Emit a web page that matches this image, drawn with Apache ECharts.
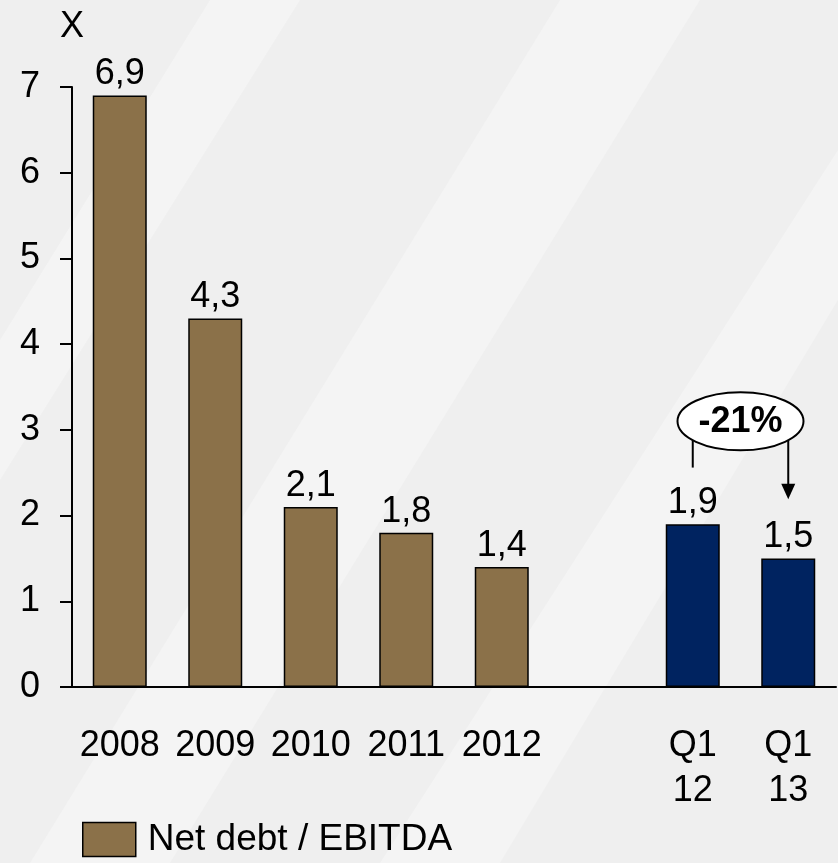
<!DOCTYPE html>
<html>
<head>
<meta charset="utf-8">
<script src="https://cdn.jsdelivr.net/npm/echarts@6/dist/echarts.min.js"></script>
<style>
  html, body { margin: 0; padding: 0; background: #efefef; }
  #chart { width: 838px; height: 863px; }
</style>
</head>
<body>
<div id="chart"></div>
<script>
// categories, the empty slot keeps the gap between years and quarters
var categories = ['2008', '2009', '2010', '2011', '2012', '', 'Q1\n12', 'Q1\n13']
var values = [6.9, 4.3, 2.1, 1.8, 1.4, null, 1.9, 1.5]
var barColors = ['#8b7149', '#8b7149', '#8b7149', '#8b7149', '#8b7149', '#8b7149', '#002360', '#002360']
var yTicks = [0, 1, 2, 3, 4, 5, 6, 7]
var changeText = '-21%'
var seriesName = 'Net debt / EBITDA'

var font = 'Liberation Sans, Arial, sans-serif'
var fs = 36
var chart = echarts.init(document.getElementById('chart'))

var barData = values.map(function (v, i) {
  return { value: v, itemStyle: { color: barColors[i] } }
})

// faint diagonal stripes of the slide background
var stripes = [
  [[210, 0], [300, 0], [0, 480], [0, 340]],
  [[560, 0], [700, 0], [170, 863], [30, 863]],
  [[838, 150], [838, 300], [500, 863], [380, 863]]
].map(function (pts) {
  return {
    type: 'polygon', silent: true, z: -10,
    shape: { points: pts },
    style: { fill: 'rgba(255,255,255,0.3)' }
  }
})

chart.setOption({
  backgroundColor: '#efefef',
  animation: false,
  textStyle: { fontFamily: font },
  grid: { left: 72, right: 2, top: 87, bottom: 176, containLabel: false },
  legend: {
    data: [seriesName],
    left: 77,
    bottom: 0,
    itemWidth: 53,
    itemHeight: 34,
    icon: 'rect',
    textStyle: { fontSize: 37, color: '#000', fontFamily: font, padding: [10, 0, 0, 7] },
    itemStyle: { borderColor: '#000', borderWidth: 1.5 }
  },
  xAxis: {
    type: 'category',
    data: categories,
    axisLine: { lineStyle: { color: '#000', width: 2 } },
    axisTick: { show: false },
    axisLabel: { fontSize: fs, color: '#000', margin: 37, lineHeight: 45, interval: 0, fontFamily: font }
  },
  yAxis: {
    type: 'value',
    min: 0,
    max: 7,
    interval: 1,
    name: 'X',
    nameLocation: 'end',
    nameGap: 42,
    nameTextStyle: { fontSize: fs, color: '#000', align: 'center', fontFamily: font },
    splitLine: { show: false },
    axisLine: { show: true, lineStyle: { color: '#000', width: 2 } },
    axisTick: { show: true, inside: false, length: 12, lineStyle: { color: '#000', width: 2 } },
    axisLabel: {
      fontSize: fs, color: '#000', margin: 32, fontFamily: font,
      formatter: function (v) { return yTicks.indexOf(v) >= 0 ? String(v) : '' }
    }
  },
  series: [{
    name: seriesName,
    type: 'bar',
    barWidth: 54,
    data: barData,
    itemStyle: { color: barColors[0], borderColor: '#000', borderWidth: 1.5 },
    label: {
      show: true,
      position: 'top',
      distance: 3,
      fontSize: fs,
      color: '#000',
      fontFamily: font,
      formatter: function (p) { return String(p.value).replace('.', ',') }
    }
  }],
  graphic: stripes
})

// change annotation between the two quarters
var pA = chart.convertToPixel({ seriesIndex: 0 }, [6, 0])
var pB = chart.convertToPixel({ seriesIndex: 0 }, [7, 0])
var yAt = function (v) { return chart.convertToPixel({ seriesIndex: 0 }, [0, v])[1] }
var cx = (pA[0] + pB[0]) / 2
var cy = yAt(3.1)

chart.setOption({
  graphic: stripes.concat([
    {
      type: 'line', z: 50,
      shape: { x1: pA[0], y1: cy + 18, x2: pA[0], y2: yAt(2.56) },
      style: { stroke: '#000', lineWidth: 2 }
    },
    {
      type: 'line', z: 50,
      shape: { x1: pB[0], y1: cy + 18, x2: pB[0], y2: yAt(2.3) },
      style: { stroke: '#000', lineWidth: 2 }
    },
    {
      type: 'polygon', z: 50,
      shape: { points: [[pB[0] - 7, yAt(2.37)], [pB[0] + 7, yAt(2.37)], [pB[0], yAt(2.19)]] },
      style: { fill: '#000' }
    },
    {
      type: 'ellipse', z: 60,
      shape: { cx: cx, cy: cy, rx: 63, ry: 29 },
      style: { fill: '#fff', stroke: '#000', lineWidth: 2 }
    },
    {
      type: 'text', z: 70,
      x: cx, y: cy + 1,
      style: {
        text: changeText, fill: '#000', fontSize: fs, fontWeight: 'bold',
        fontFamily: font, align: 'center', verticalAlign: 'middle'
      }
    }
  ])
})
</script>
</body>
</html>
